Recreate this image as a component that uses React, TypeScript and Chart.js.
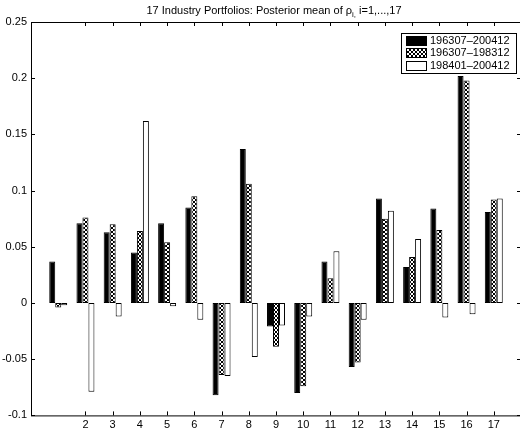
import React, { useEffect, useRef } from "react";
import { Chart, registerables } from "chart.js";

Chart.register(...registerables);

const industries = ["1","2","3","4","5","6","7","8","9","10","11","12","13","14","15","16","17"];
const seriesNames = ["196307\u2013200412", "196307\u2013198312", "198401\u2013200412"];
const fullPeriod = [0.037, 0.071, 0.063, 0.045, 0.071, 0.085, -0.082, 0.137, -0.021, -0.080, 0.037, -0.057, 0.093, 0.032, 0.084, 0.202, 0.081];
const earlyPeriod = [-0.004, 0.076, 0.070, 0.064, 0.054, 0.095, -0.064, 0.106, -0.039, -0.074, 0.022, -0.053, 0.075, 0.041, 0.065, 0.198, 0.092];
const latePeriod = [-0.002, -0.079, -0.012, 0.162, -0.003, -0.015, -0.065, -0.048, -0.020, -0.012, 0.046, -0.015, 0.082, 0.057, -0.013, -0.010, 0.093];
const yTicks = [-0.1, -0.05, 0, 0.05, 0.1, 0.15, 0.2, 0.25];
const hiddenLabels = ["1"];

const FONT = "'Liberation Sans', Arial, Helvetica, sans-serif";

function makeHatch(): CanvasPattern | string {
  const c = document.createElement("canvas");
  c.width = 4;
  c.height = 4;
  const g = c.getContext("2d");
  if (!g) return "#777";
  g.fillStyle = "#fff";
  g.fillRect(0, 0, 4, 4);
  g.fillStyle = "#000";
  for (let i = 0; i < 4; i++) {
    g.fillRect(i, i, 1, 1);
    g.fillRect(3 - i, i, 1, 1);
  }
  const p = g.createPattern(c, "repeat");
  return p || "#777";
}

export default function App() {
  const ref = useRef<HTMLCanvasElement | null>(null);

  useEffect(() => {
    const canvas = ref.current;
    if (!canvas) return;
    document.body.style.margin = "0";
    const hatch = makeHatch();
    const labels = ["", ...industries, ""];
    const pad = (a: number[]) => [null, ...a, null];
    const fills: any[] = ["#000", hatch, "#fff"];

    const decor = {
      id: "decor",
      afterDraw(chart: any) {
        const ctx = chart.ctx as CanvasRenderingContext2D;
        const a = chart.chartArea;
        const xs = chart.scales.x;
        const ys = chart.scales.y;
        ctx.save();
        ctx.strokeStyle = "#000";
        ctx.lineWidth = 1;
        ctx.strokeRect(Math.round(a.left) + 0.5, Math.round(a.top) + 0.5, a.right - a.left, a.bottom - a.top);
        ctx.beginPath();
        yTicks.forEach((v) => {
          const y = Math.round(ys.getPixelForValue(v)) + 0.5;
          ctx.moveTo(a.left, y);
          ctx.lineTo(a.left + 4, y);
          ctx.moveTo(a.right, y);
          ctx.lineTo(a.right - 4, y);
        });
        industries.forEach((lab, i) => {
          if (hiddenLabels.includes(lab)) return;
          const x = Math.round(xs.getPixelForValue(i + 1)) + 0.5;
          ctx.moveTo(x, a.bottom);
          ctx.lineTo(x, a.bottom - 4);
          ctx.moveTo(x, a.top);
          ctx.lineTo(x, a.top + 4);
        });
        ctx.stroke();

        // title
        const p1 = "17 Industry Portfolios: Posterior mean of \u03C1";
        const sub = "i,";
        const p3 = " i=1,...,17";
        ctx.fillStyle = "#000";
        ctx.textBaseline = "alphabetic";
        ctx.textAlign = "left";
        ctx.font = `11px ${FONT}`;
        const w1 = ctx.measureText(p1).width;
        const w3 = ctx.measureText(p3).width;
        ctx.font = `8px ${FONT}`;
        const w2 = ctx.measureText(sub).width;
        const total = w1 + w2 + w3;
        let tx = 274 - total / 2;
        const ty = 14;
        ctx.font = `11px ${FONT}`;
        ctx.fillText(p1, tx, ty);
        tx += w1;
        ctx.font = `8px ${FONT}`;
        ctx.fillText(sub, tx, ty + 3);
        tx += w2;
        ctx.font = `11px ${FONT}`;
        ctx.fillText(p3, tx, ty);

        // legend
        const lx = 401, ly = 33, lw = 115, lh = 40;
        ctx.fillStyle = "#fff";
        ctx.fillRect(lx, ly, lw, lh);
        ctx.strokeRect(lx + 0.5, ly + 0.5, lw, lh);
        const rows = [40, 52.5, 65];
        seriesNames.forEach((name, i) => {
          const cy = rows[i];
          ctx.fillStyle = fills[i];
          ctx.fillRect(406, Math.round(cy - 4.5), 20, 9);
          ctx.strokeRect(406.5, Math.round(cy - 4.5) + 0.5, 20, 9);
          ctx.fillStyle = "#000";
          ctx.font = `11px ${FONT}`;
          ctx.textBaseline = "middle";
          ctx.fillText(name, 430, cy + 0.5);
        });
        ctx.restore();
      },
    };

    const chart = new Chart(canvas, {
      type: "bar",
      data: {
        labels,
        datasets: [
          { label: seriesNames[0], data: pad(fullPeriod), backgroundColor: "#000", borderColor: "#000", borderWidth: 1, borderSkipped: false },
          { label: seriesNames[1], data: pad(earlyPeriod), backgroundColor: hatch as any, borderColor: "#000", borderWidth: 1, borderSkipped: false },
          { label: seriesNames[2], data: pad(latePeriod), backgroundColor: "#fff", borderColor: "#000", borderWidth: 1, borderSkipped: false },
        ],
      },
      options: {
        responsive: false,
        animation: false,
        devicePixelRatio: 1,
        layout: { padding: { top: 22, right: 0, bottom: 0, left: 0 } },
        datasets: { bar: { categoryPercentage: 0.66, barPercentage: 1 } },
        plugins: { legend: { display: false }, title: { display: false }, tooltip: { enabled: false } },
        scales: {
          x: {
            type: "category",
            offset: false,
            grid: { display: false, drawTicks: false },
            border: { display: false },
            ticks: {
              autoSkip: false,
              maxRotation: 0,
              minRotation: 0,
              padding: 3,
              color: "#000",
              font: { family: FONT, size: 11 },
              callback: (_v: any, i: number) => {
                const l = labels[i];
                return hiddenLabels.includes(l) ? "" : l;
              },
            },
            afterFit: (s: any) => { s.height = 17.6; },
          },
          y: {
            type: "linear",
            min: -0.1,
            max: 0.25,
            grid: { display: false, drawTicks: false },
            border: { display: false },
            ticks: {
              stepSize: 0.05,
              padding: 4,
              color: "#000",
              font: { family: FONT, size: 11 },
              callback: (v: any) => String(Math.round(Number(v) * 100) / 100),
            },
            afterFit: (s: any) => { s.width = 31; },
          },
        },
      },
      plugins: [decor],
    } as any);

    return () => chart.destroy();
  }, []);

  return (
    <div style={{ position: "absolute", left: 0, top: 0, width: 520, height: 433, overflow: "hidden", background: "#fff" }}>
      <canvas ref={ref} width={524} height={433} style={{ display: "block", width: 524, height: 433 }} />
    </div>
  );
}
